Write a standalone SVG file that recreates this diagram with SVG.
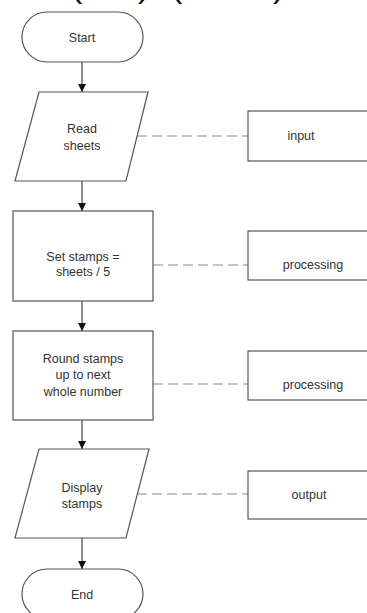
<svg xmlns="http://www.w3.org/2000/svg" width="367" height="613" viewBox="0 0 367 613">
  <defs>
    <marker id="arrow" viewBox="0 0 8 10" refX="8" refY="5" markerWidth="8" markerHeight="10" markerUnits="userSpaceOnUse" orient="auto">
      <path d="M0,1 L8,5 L0,9 Z" fill="#111"/>
    </marker>
  </defs>
  <style>
    .shape { fill: #fff; stroke: #555; stroke-width: 1.2; }
    .label { font-family: "Liberation Sans", Arial, sans-serif; font-size: 12.5px; fill: #333; text-anchor: middle; }
    .flow { stroke: #444; stroke-width: 1.2; fill: none; marker-end: url(#arrow); }
    .link { stroke: #888; stroke-width: 1.2; stroke-dasharray: 10 5; fill: none; }
    .head { font-family: "Liberation Sans", Arial, sans-serif; font-size: 34px; fill: #111; }
  </style>
  <rect width="367" height="613" fill="#fff"/>

  <!-- heading line running off the top edge -->
  <text class="head" y="-3"><tspan x="71">(</tspan><tspan x="138">)</tspan><tspan x="171">(</tspan><tspan x="273">)</tspan></text>

  <g id="connectors">
    <line class="flow" x1="82" y1="62" x2="82" y2="92"/>
    <line class="flow" x1="82" y1="181" x2="82" y2="211"/>
    <line class="flow" x1="82" y1="301" x2="82" y2="331"/>
    <line class="flow" x1="82" y1="420" x2="82" y2="449"/>
    <line class="flow" x1="82" y1="538" x2="82" y2="569"/>
    <line class="link" x1="137" y1="136" x2="248" y2="136"/>
    <line class="link" x1="153" y1="265" x2="248" y2="265"/>
    <line class="link" x1="153" y1="384" x2="248" y2="384"/>
    <line class="link" x1="137" y1="494" x2="248" y2="494"/>
  </g>

  <g id="start">
    <rect class="shape" x="22" y="12" width="121" height="50" rx="25" ry="25"/>
    <text class="label" x="82" y="42">Start</text>
  </g>

  <g id="read-sheets">
    <polygon class="shape" points="39,92 148,92 126,181 15,181"/>
    <text class="label" x="82" y="133">Read</text>
    <text class="label" x="82" y="150">sheets</text>
  </g>

  <g id="input">
    <rect class="shape" x="248" y="111" width="130" height="50"/>
    <text class="label" x="301" y="140">input</text>
  </g>

  <g id="set-stamps">
    <rect class="shape" x="13" y="211" width="140" height="90"/>
    <text class="label" x="83" y="261">Set stamps =</text>
    <text class="label" x="83" y="276">sheets / 5</text>
  </g>

  <g id="processing-1">
    <rect class="shape" x="248" y="231" width="130" height="49"/>
    <text class="label" x="313" y="269">processing</text>
  </g>

  <g id="round-stamps">
    <rect class="shape" x="13" y="331" width="140" height="89"/>
    <text class="label" x="83" y="363">Round stamps</text>
    <text class="label" x="83" y="379">up to next</text>
    <text class="label" x="83" y="396">whole number</text>
  </g>

  <g id="processing-2">
    <rect class="shape" x="248" y="351" width="130" height="49"/>
    <text class="label" x="313" y="389">processing</text>
  </g>

  <g id="display-stamps">
    <polygon class="shape" points="39,449 149,449 126,538 15,538"/>
    <text class="label" x="82" y="492">Display</text>
    <text class="label" x="82" y="508">stamps</text>
  </g>

  <g id="output">
    <rect class="shape" x="248" y="471" width="130" height="48"/>
    <text class="label" x="309" y="499">output</text>
  </g>

  <g id="end">
    <rect class="shape" x="22" y="569" width="121" height="50" rx="25" ry="25"/>
    <text class="label" x="82" y="599">End</text>
  </g>
</svg>
